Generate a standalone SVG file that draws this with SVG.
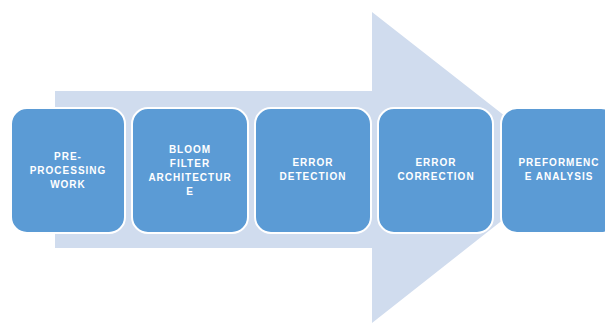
<svg xmlns="http://www.w3.org/2000/svg" width="605" height="323" viewBox="0 0 605 323">
<style>
.box{fill:#5B9BD5;stroke:#FFFFFF;stroke-width:2}
.lbl{font-family:"Liberation Sans",Arial,sans-serif;font-weight:bold;font-size:10px;fill:#FFFFFF;text-anchor:middle;letter-spacing:1px}
</style>
<rect width="605" height="323" fill="#FFFFFF"/>
<g id="connectors">
<polygon points="55,91 372,91 372,12 570,167 372,323 372,248 55,248" fill="#D0DCEE"/>
</g>
<g id="node1">
<rect class="box" x="11" y="108" width="114" height="125" rx="16"/>
<text class="lbl" x="68" y="160">PRE-</text>
<text class="lbl" x="68" y="174">PROCESSING</text>
<text class="lbl" x="68" y="188">WORK</text>
</g>
<g id="node2">
<rect class="box" x="132" y="108" width="116" height="125" rx="16"/>
<text class="lbl" x="190" y="153">BLOOM</text>
<text class="lbl" x="190" y="167">FILTER</text>
<text class="lbl" x="190" y="181">ARCHITECTUR</text>
<text class="lbl" x="190" y="195">E</text>
</g>
<g id="node3">
<rect class="box" x="255" y="108" width="116" height="125" rx="16"/>
<text class="lbl" x="313" y="166">ERROR</text>
<text class="lbl" x="313" y="180">DETECTION</text>
</g>
<g id="node4">
<rect class="box" x="378" y="108" width="115" height="125" rx="16"/>
<text class="lbl" x="436" y="166">ERROR</text>
<text class="lbl" x="436" y="180">CORRECTION</text>
</g>
<g id="node5">
<rect class="box" x="501" y="108" width="116" height="125" rx="16"/>
<text class="lbl" x="559" y="166">PREFORMENC</text>
<text class="lbl" x="559" y="180">E ANALYSIS</text>
</g>
</svg>
